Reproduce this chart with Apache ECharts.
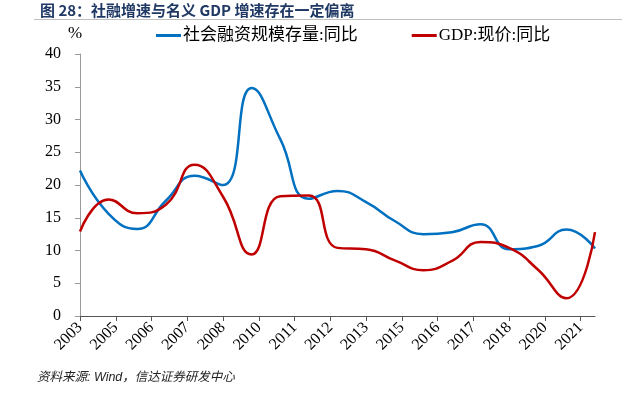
<!DOCTYPE html>
<html>
<head>
<meta charset="utf-8">
<script src="https://cdn.jsdelivr.net/npm/echarts@6/dist/echarts.min.js"></script>
<style>
html,body{margin:0;padding:0;background:#fff;}
#chart{width:644px;height:396px;}
</style>
</head>
<body>
<div id="chart"></div>
<script>
const years = [2003,2004,2005,2006,2007,2008,2009,2010,2011,2012,2013,2014,2015,2016,2017,2018,2019,2020,2021];
const tsfStock = [22.2,15.6,13.3,17.6,21.4,20.0,34.8,27.0,17.9,19.1,17.4,14.5,12.5,12.8,14.0,10.2,10.7,13.2,10.3];
const nominalGdp = [12.9,17.8,15.7,17.0,23.1,18.2,9.4,18.3,18.4,10.4,10.2,8.5,7.0,8.4,11.3,10.4,7.1,2.7,12.8];
const tickLabels = ['2003','2005','2006','2007','2008','2010','2011','2012','2013','2015','2016','2017','2018','2020','2021'];
const seriesNames = ['社会融资规模存量:同比','GDP:现价:同比'];
const titleText = '图 28：社融增速与名义 GDP 增速存在一定偏离';
const sourceText = '资料来源: Wind，信达证券研发中心';

// Year-end observations on a date axis whose labels fall every 15 months
const tickStep = 1.25;
const tickValues = tickLabels.map((_, i) => years[0] + tickStep * i);

const serif = "'Liberation Serif','Noto Sans CJK SC',serif";
const chart = echarts.init(document.getElementById('chart'), null, {renderer:'canvas'});
chart.setOption({
  animation: false,
  backgroundColor: '#fff',
  title: {
    text: titleText,
    left: 35, top: -2,
    textStyle: {fontSize: 15, fontWeight: 'bold', color: '#1f3864', fontFamily: "'Noto Sans CJK SC','Liberation Sans',sans-serif"}
  },
  legend: {
    left: 151, top: 22,
    itemWidth: 25, itemHeight: 3, itemGap: 54,
    icon: 'rect',
    textStyle: {fontSize: 17, color: '#000', fontFamily: serif, padding: [0,0,0,-3]},
    data: seriesNames
  },
  graphic: [
    {type:'line', shape:{x1:34, y1:19.5, x2:622, y2:19.5}, style:{stroke:'#bfbfbf', lineWidth:1}},
    {type:'text', left: 68, top: 25, style:{text:'%', fontSize:17, fill:'#000', fontFamily: serif}},
    {type:'text', left: 37, top: 371, style:{text: sourceText, fontSize:12.5, fontStyle:'italic', fill:'#222', fontFamily:"'Liberation Sans','Noto Sans CJK SC',sans-serif"}}
  ],
  grid: {left: 80, right: 49, top: 54, bottom: 80},
  xAxis: {
    type: 'value',
    min: years[0], max: years[years.length-1],
    axisLine: {show: true, lineStyle: {color: '#555', width: 1}},
    axisTick: {show: true, customValues: tickValues, length: 5, lineStyle: {color: '#555'}},
    axisLabel: {
      customValues: tickValues,
      rotate: 45, margin: 9,
      fontSize: 16, color: '#000', fontFamily: serif,
      formatter: v => tickLabels[Math.round((v - years[0]) / tickStep)]
    },
    splitLine: {show: false}
  },
  yAxis: {
    type: 'value',
    min: 0, max: 40, interval: 5,
    axisLine: {show: true, lineStyle: {color: '#999', width: 1}},
    axisTick: {show: true, length: 5, lineStyle: {color: '#999'}},
    axisLabel: {fontSize: 16, color: '#000', fontFamily: serif, margin: 19},
    splitLine: {show: false}
  },
  series: [
    {
      name: seriesNames[0], type: 'line', smooth: 0.5, showSymbol: false,
      data: years.map((y, i) => [y, tsfStock[i]]),
      lineStyle: {color: '#0070c0', width: 2.5}, itemStyle: {color: '#0070c0'}
    },
    {
      name: seriesNames[1], type: 'line', smooth: 0.5, showSymbol: false,
      data: years.map((y, i) => [y, nominalGdp[i]]),
      lineStyle: {color: '#c00000', width: 2.5}, itemStyle: {color: '#c00000'}
    }
  ]
});
</script>
</body>
</html>
